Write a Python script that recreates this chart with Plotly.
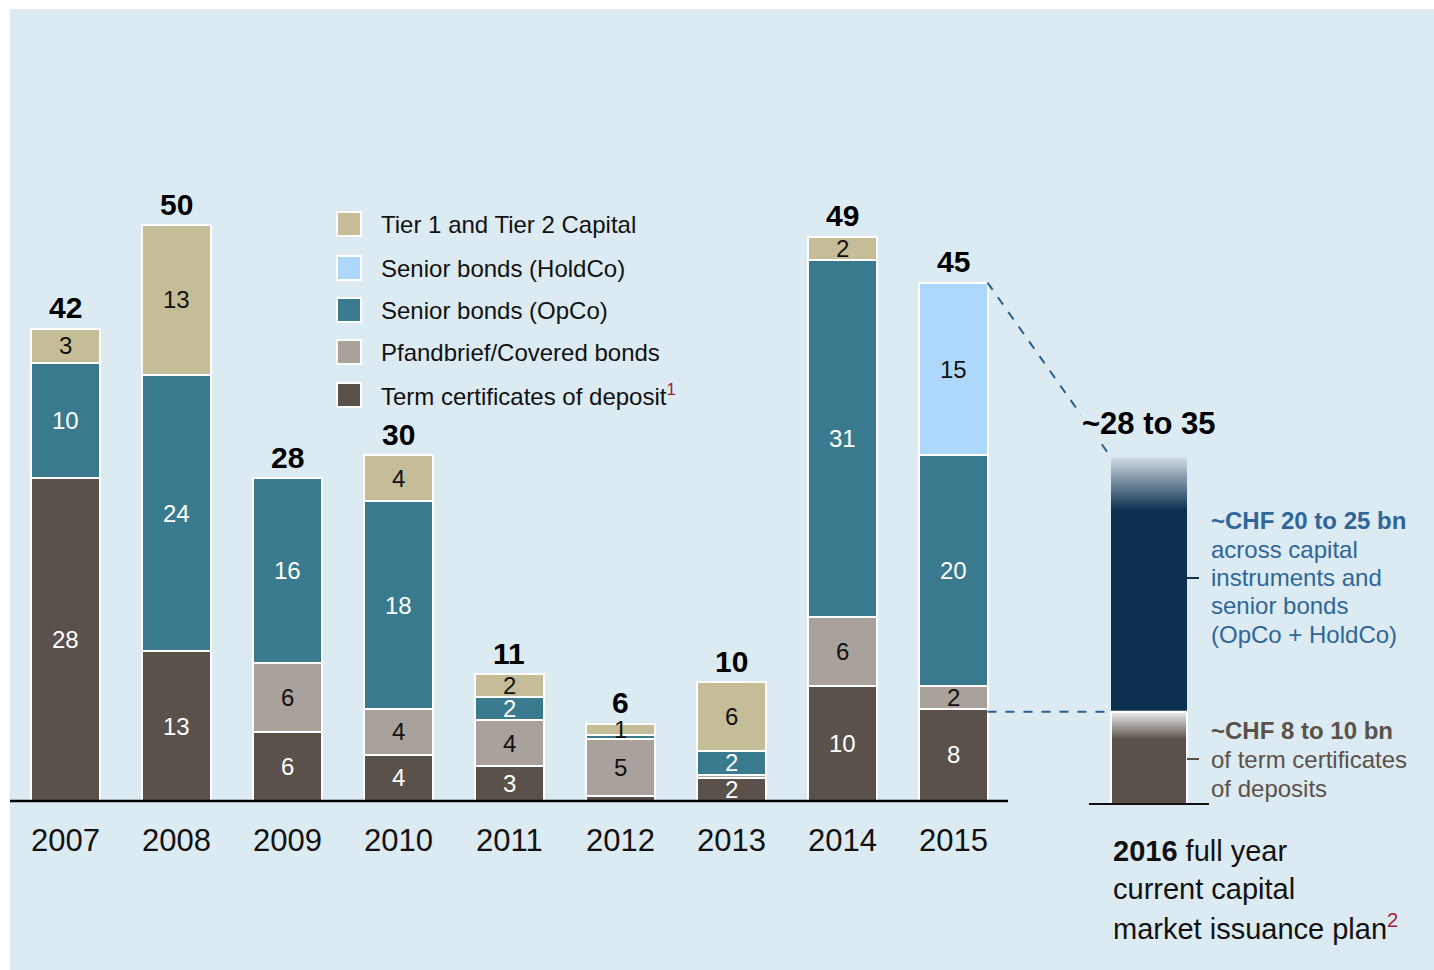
import plotly.graph_objects as go

# ---------------------------------------------------------------- data
years = ["2007", "2008", "2009", "2010", "2011", "2012", "2013", "2014", "2015"]
totals = [42, 50, 28, 30, 11, 6, 10, 49, 45]

series_names = [
    "Term certificates of deposit",
    "Pfandbrief/Covered bonds",
    "Senior bonds (OpCo)",
    "Senior bonds (HoldCo)",
    "Tier 1 and Tier 2 Capital",
]
term_deposits = [28, 13, 6, 4, 3, 0.4, 2, 10, 8]
covered_bonds = [0, 0, 6, 4, 4, 5, 0.3, 6, 2]
senior_opco = [10, 24, 16, 18, 2, 0.3, 2, 31, 20]
senior_holdco = [0, 0, 0, 0, 0, 0, 0, 0, 15]
tier_capital = [3, 13, 0, 4, 2, 1, 6, 2, 0]

# 2016 plan column: solid levels and where the fades begin
plan_label = "~28 to 35"
plan_term_top = 8.0
plan_term_fade_from = 5.6
plan_capital_top = 30.1
plan_capital_fade_from = 25.5

series_values = [term_deposits, covered_bonds, senior_opco, senior_holdco, tier_capital]
series_colors = ["#5a514b", "#a9a19b", "#3a7a8e", "#aed8fb", "#c5bd98"]
label_colors = ["white", "#111111", "white", "#111111", "#111111"]

# ---------------------------------------------------------------- geometry
W, H = 1434, 970
BG = "#dcebf1"
FONT = "Liberation Sans"
PPX = 111.0          # pixels per category step
PPU = 11.52          # pixels per CHF bn
X0_PX = 65.0         # pixel centre of the first bar
BASE_PX = 801.0      # pixel position of the zero line
BAR_W = 69 / PPX
PLAN_X = (1149 - X0_PX) / PPX
PLAN_W = 76 / PPX
PLAN_DROP = 3 / PPU  # plan column sits 3px lower

xmin = -X0_PX / PPX
xmax = xmin + W / PPX
ymin = -(H - BASE_PX) / PPU
ymax = ymin + H / PPU


def px(x):
    return x / W


def py(y):
    return 1 - y / H


fig = go.Figure()

xs = list(range(len(years)))
for name, vals, col in zip(series_names, series_values, series_colors):
    fig.add_trace(go.Bar(
        x=xs, y=[v if v else None for v in vals], name=name,
        width=BAR_W, marker=dict(color=col, line=dict(color="white", width=2)),
        hoverinfo="name+y", showlegend=False,
    ))

annotations = []

# value labels inside the segments
for i in xs:
    cum = 0
    for vals, lc in zip(series_values, label_colors):
        v = vals[i]
        if v >= 1:
            annotations.append(dict(
                x=i, y=cum + v / 2, xref="x", yref="y", text=str(v), showarrow=False,
                font=dict(family=FONT, size=24, color=lc), xanchor="center", yanchor="middle",
            ))
        cum += v
    # total above the stack
    annotations.append(dict(
        x=i, y=cum, xref="x", yref="y", text=f"<b>{totals[i]}</b>", showarrow=False,
        font=dict(family=FONT, size=30, color="#000000"), xanchor="center", yanchor="middle",
        yshift=21,
    ))
    # year label
    annotations.append(dict(
        x=i, y=py(840), xref="x", yref="paper", text=years[i], showarrow=False,
        font=dict(family=FONT, size=31, color="#111111"), xanchor="center", yanchor="middle",
    ))

# 2016 plan column with faded tops
xl, xr = PLAN_X - PLAN_W / 2, PLAN_X + PLAN_W / 2
fig.add_trace(go.Scatter(
    x=[xl, xr, xr, xl, xl], y=[plan_term_top, plan_term_top, plan_capital_top, plan_capital_top, plan_term_top],
    yaxis="y2", mode="lines", line=dict(width=0), fill="toself",
    fillgradient=dict(type="vertical", colorscale=[[0, "#0b3050"], [1, "#d3dee5"]],
                      start=plan_capital_fade_from, stop=plan_capital_top),
    hoverinfo="skip", showlegend=False,
))
fig.add_trace(go.Scatter(
    x=[xl, xr, xr, xl, xl], y=[0, 0, plan_term_top, plan_term_top, 0],
    yaxis="y2", mode="lines", line=dict(width=2, color="white"), fill="toself",
    fillgradient=dict(type="vertical", colorscale=[[0, "#5a514b"], [1, "#eef0f0"]],
                      start=plan_term_fade_from, stop=plan_term_top),
    hoverinfo="skip", showlegend=False,
))

shapes = [
    # panel background
    dict(type="rect", xref="paper", yref="paper", x0=px(10), x1=1, y0=0, y1=py(9),
         fillcolor=BG, line=dict(width=0), layer="below"),
    # zero lines
    dict(type="line", xref="paper", yref="y", x0=px(10), x1=px(1008), y0=0, y1=0,
         line=dict(color="#000000", width=2.5)),
    dict(type="line", xref="paper", yref="y2", x0=px(1089), x1=px(1209), y0=0, y1=0,
         line=dict(color="#111111", width=2)),
    # connectors from 2015 to the plan column
    dict(type="line", xref="x", yref="y", x0=8 + BAR_W / 2, y0=totals[8],
         x1=xl, y1=plan_capital_top - PLAN_DROP,
         line=dict(color="#2a5f8e", width=2, dash="dash")),
    dict(type="line", xref="x", yref="y2", x0=8 + BAR_W / 2, y0=plan_term_top,
         x1=xl, y1=plan_term_top, line=dict(color="#2a5f8e", width=2, dash="dash")),
    # callout ticks
    dict(type="line", xref="paper", yref="paper", x0=px(1187), x1=px(1199), y0=py(578), y1=py(578),
         line=dict(color="#0b3050", width=2)),
    dict(type="line", xref="paper", yref="paper", x0=px(1187), x1=px(1199), y0=py(759), y1=py(759),
         line=dict(color="#5a514b", width=2)),
]

# legend
legend_rows = [224, 268, 310, 352, 395]
legend_order = [4, 3, 2, 1, 0]
for row_y, k in zip(legend_rows, legend_order):
    shapes.append(dict(type="rect", xref="paper", yref="paper",
                       x0=px(337), x1=px(361), y0=py(row_y + 12), y1=py(row_y - 12),
                       fillcolor=series_colors[k], line=dict(color="white", width=2)))
    txt = series_names[k]
    if k == 0:
        txt += "<sup><span style='color:#a0203c'>1</span></sup>"
    annotations.append(dict(x=px(379), y=py(row_y), xref="paper", yref="paper", text=txt,
                            showarrow=False, xanchor="left", yanchor="middle",
                            font=dict(family=FONT, size=24, color="#111111")))

# plan total (background hides the connector behind it)
annotations.append(dict(x=PLAN_X, y=py(423), xref="x", yref="paper", text=f"<b>{plan_label}</b>",
                        showarrow=False, xanchor="center", yanchor="middle", bgcolor=BG,
                        font=dict(family=FONT, size=31, color="#000000")))

blue_lines = [("<b>~CHF 20 to 25 bn</b>", 520), ("across capital", 549), ("instruments and", 577),
              ("senior bonds", 605), ("(OpCo + HoldCo)", 634)]
for t, yy in blue_lines:
    annotations.append(dict(x=px(1209), y=py(yy), xref="paper", yref="paper", text=t, showarrow=False,
                            xanchor="left", yanchor="middle",
                            font=dict(family=FONT, size=24, color="#2f6699")))
grey_lines = [("<b>~CHF 8 to 10 bn</b>", 730), ("of term certificates", 759), ("of deposits", 788)]
for t, yy in grey_lines:
    annotations.append(dict(x=px(1209), y=py(yy), xref="paper", yref="paper", text=t, showarrow=False,
                            xanchor="left", yanchor="middle",
                            font=dict(family=FONT, size=24, color="#5a514b")))
plan_caption = [("<b>2016</b> full year", 851), ("current capital", 889),
                ("market issuance plan<sup><span style='color:#a0203c'>2</span></sup>", 927)]
for t, yy in plan_caption:
    annotations.append(dict(x=px(1111), y=py(yy), xref="paper", yref="paper", text=t, showarrow=False,
                            xanchor="left", yanchor="middle",
                            font=dict(family=FONT, size=29, color="#111111")))

fig.update_layout(
    width=W, height=H, margin=dict(l=0, r=0, t=0, b=0),
    paper_bgcolor="white", plot_bgcolor="rgba(0,0,0,0)",
    barmode="stack", showlegend=False,
    xaxis=dict(range=[xmin, xmax], visible=False, fixedrange=True),
    yaxis=dict(range=[ymin, ymax], visible=False, fixedrange=True),
    yaxis2=dict(range=[ymin + PLAN_DROP, ymax + PLAN_DROP], visible=False, fixedrange=True,
                overlaying="y"),
    shapes=shapes, annotations=annotations,
    font=dict(family=FONT),
)

fig.write_html("out.html")
